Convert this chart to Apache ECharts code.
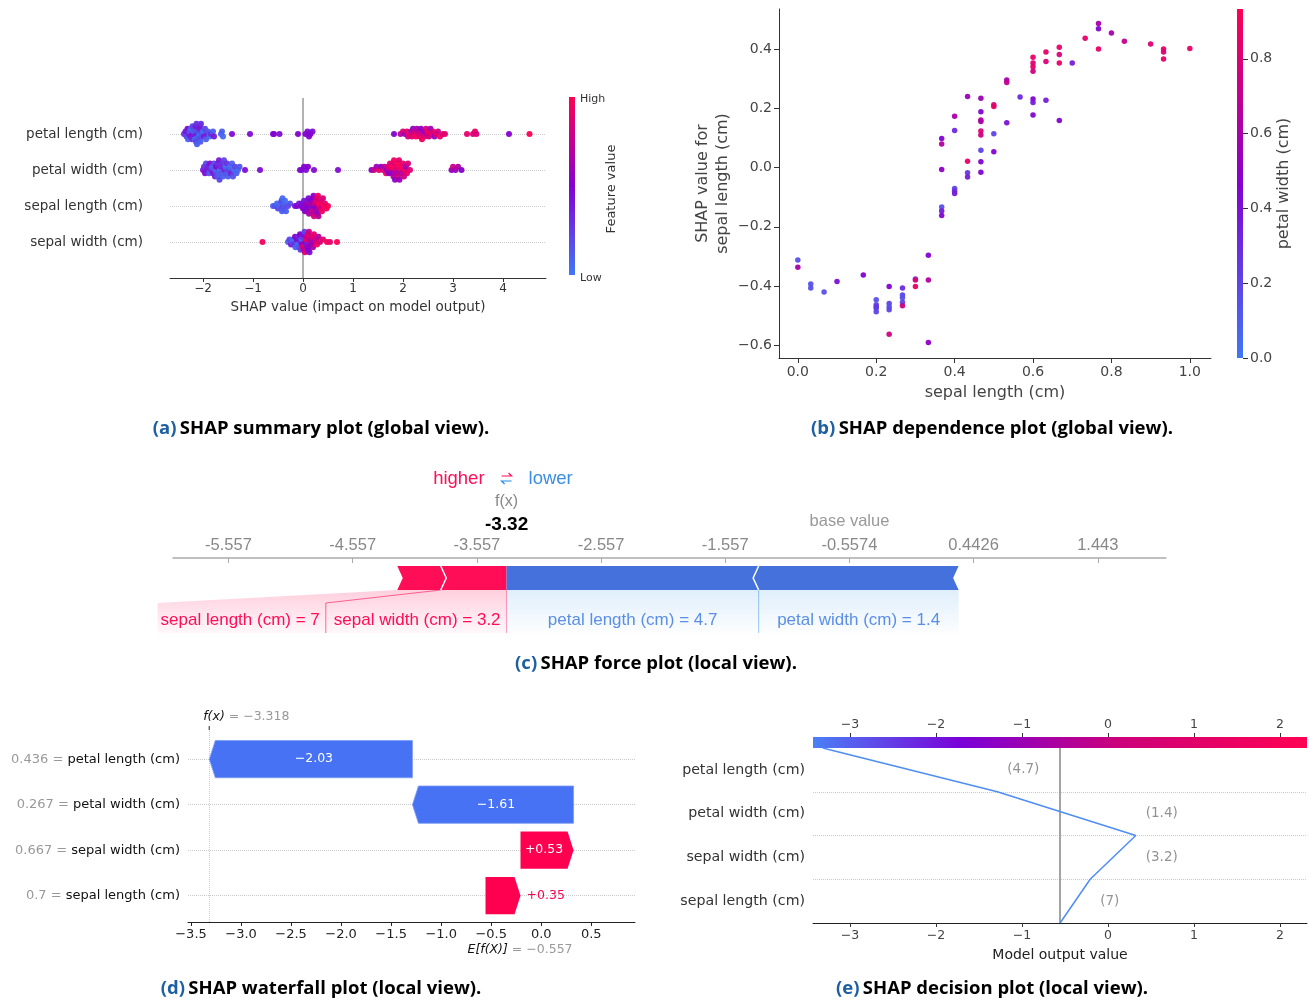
<!DOCTYPE html>
<html>
<head>
<meta charset="utf-8">
<script src="https://cdn.jsdelivr.net/npm/echarts@6/dist/echarts.min.js"></script>
</head>
<body style="margin:0; background:#fff;">
<div id="container" style="width:1309px; height:1003px;"></div>
<script type="text/javascript">
// ---------- (a) summary plot: [shap value, normalised feature value] ----------
var summaryFeatures = ['sepal width (cm)', 'sepal length (cm)', 'petal width (cm)', 'petal length (cm)']; // rows 1..4 from bottom
var summaryTicks = [-2, -1, 0, 1, 2, 3, 4];
var petalLengthShap = [
	[-2.38,0.3],[-2.35,0.4],[-2.33,0.2],[-2.31,0.45],[-2.3,0.1],[-2.28,0.35],[-2.27,0.15],[-2.25,0.4],[-2.24,0.05],[-2.22,0.3],
	[-2.21,0.2],[-2.2,0.45],[-2.19,0.1],[-2.18,0.35],[-2.17,0.15],[-2.16,0.05],[-2.15,0.4],[-2.14,0.2],[-2.13,0.3],[-2.12,0.1],
	[-2.11,0.45],[-2.1,0.15],[-2.09,0.05],[-2.08,0.35],[-2.07,0.2],[-2.06,0.4],[-2.05,0.1],[-2.04,0.3],[-2.02,0.15],[-2.0,0.05],
	[-1.98,0.4],[-1.96,0.2],[-1.94,0.1],[-1.92,0.35],[-1.9,0.15],[-1.87,0.05],[-1.84,0.3],[-1.8,0.1],[-1.78,0.4],
	[-1.64,0.08],[-1.62,0.1],[-1.6,0.05],[-1.42,0.45],[-1.06,0.45],[-0.6,0.45],[-0.58,0.5],[-0.47,0.45],[-0.1,0.5],
	[0.05,0.5],[0.09,0.45],[0.12,0.5],[0.15,0.5],[0.19,0.45],
	[1.82,0.5],[1.95,0.7],[2.0,0.85],[2.04,0.6],[2.08,0.9],[2.1,0.8],[2.13,0.95],[2.16,0.7],[2.18,0.85],[2.2,0.55],
	[2.22,0.9],[2.24,0.8],[2.26,1],[2.28,0.65],[2.3,0.9],[2.32,0.75],[2.34,0.85],[2.36,0.55],[2.38,0.95],[2.4,0.8],
	[2.42,0.6],[2.44,0.9],[2.46,0.85],[2.48,0.7],[2.5,0.95],[2.52,0.8],[2.55,0.6],[2.57,0.9],[2.6,0.85],[2.63,0.55],
	[2.66,0.9],[2.7,0.8],[2.74,0.95],[2.8,0.85],[2.84,0.9],
	[3.28,0.9],[3.4,0.85],[3.44,0.9],[3.47,0.85],[4.12,0.5],[4.53,1]
];
var petalWidthShap = [
	[-2.0,0.4],[-1.98,0.3],[-1.96,0.45],[-1.94,0.2],[-1.92,0.4],[-1.9,0.35],[-1.88,0.15],[-1.86,0.45],[-1.84,0.3],[-1.82,0.1],
	[-1.8,0.4],[-1.78,0.2],[-1.76,0.35],[-1.75,0.05],[-1.74,0.45],[-1.72,0.15],[-1.71,0.3],[-1.7,0.1],[-1.68,0.4],[-1.67,0.2],
	[-1.66,0.05],[-1.64,0.35],[-1.63,0.15],[-1.62,0.3],[-1.6,0.1],[-1.58,0.2],[-1.56,0.4],[-1.55,0.05],[-1.53,0.15],[-1.52,0.3],
	[-1.5,0.1],[-1.48,0.2],[-1.46,0.05],[-1.44,0.35],[-1.42,0.1],[-1.4,0.15],[-1.38,0.05],[-1.36,0.2],[-1.33,0.1],[-1.3,0.05],
	[-1.27,0.15],[-1.16,0.45],[-0.86,0.45],[-0.06,0.5],[-0.03,0.45],[0.02,0.5],[0.06,0.45],[0.1,0.5],[0.22,0.45],[0.7,0.45],
	[1.37,0.5],[1.42,0.8],[1.47,0.6],[1.52,0.9],[1.56,0.55],[1.6,0.85],[1.63,0.7],[1.66,0.95],[1.68,0.6],[1.7,0.85],
	[1.72,0.5],[1.74,0.9],[1.76,0.75],[1.77,1],[1.78,0.6],[1.8,0.85],[1.81,0.7],[1.82,0.95],[1.84,0.55],[1.85,0.85],
	[1.86,0.9],[1.88,0.65],[1.89,1],[1.9,0.8],[1.92,0.9],[1.93,0.6],[1.95,0.85],[1.96,0.95],[1.98,0.7],[2.0,0.9],
	[2.02,0.8],[2.04,0.95],[2.06,0.6],[2.08,0.9],[2.1,0.85],[2.14,0.9],
	[2.97,0.55],[3.0,0.8],[3.05,0.6],[3.1,0.7],[3.17,0.5]
];
var sepalLengthShap = [
	[-0.6,0.1],[-0.56,0.15],[-0.52,0.05],[-0.5,0.2],[-0.48,0.1],[-0.46,0.05],[-0.44,0.15],[-0.43,0.25],[-0.42,0.1],[-0.41,0.05],
	[-0.4,0.2],[-0.39,0.1],[-0.38,0.15],[-0.36,0.05],[-0.34,0.1],[-0.3,0.2],[-0.26,0.15],
	[-0.16,0.45],[-0.12,0.5],[-0.08,0.4],[-0.04,0.5],[-0.02,0.45],[0.0,0.55],[0.02,0.4],[0.04,0.5],[0.05,0.45],[0.06,0.6],
	[0.08,0.5],[0.09,0.4],[0.1,0.55],[0.11,0.45],[0.12,0.65],[0.14,0.5],[0.15,0.7],[0.16,0.45],[0.17,0.6],[0.18,0.8],
	[0.19,0.5],[0.2,0.7],[0.21,0.55],[0.22,0.85],[0.23,0.6],[0.24,0.75],[0.25,0.5],[0.26,0.9],[0.27,0.65],[0.28,0.8],
	[0.29,0.55],[0.3,0.95],[0.31,0.7],[0.32,0.85],[0.33,1],[0.35,0.8],[0.36,0.9],[0.38,0.95],[0.4,0.85],[0.42,1],
	[0.44,0.9],[0.47,0.95],[0.5,1]
];
var sepalWidthShap = [
	[-0.81,0.95],
	[-0.3,0.1],[-0.27,0.2],[-0.24,0.4],[-0.22,0.15],[-0.2,0.05],[-0.18,0.3],[-0.16,0.5],[-0.15,0.1],[-0.13,0.2],[-0.12,0.45],
	[-0.1,0.05],[-0.09,0.35],[-0.08,0.15],[-0.06,0.5],[-0.05,0.25],[-0.04,0.4],[-0.03,0.1],[-0.02,0.6],[-0.01,0.3],[0.0,0.9],
	[0.01,0.45],[0.02,0.7],[0.03,0.2],[0.04,0.85],[0.05,0.5],[0.06,0.95],[0.07,0.4],[0.08,0.75],[0.09,0.6],[0.1,0.9],
	[0.11,0.5],[0.12,0.8],[0.13,0.45],[0.14,0.95],[0.15,0.7],[0.16,0.55],[0.18,0.85],[0.2,0.65],[0.22,0.9],[0.24,0.6],
	[0.26,0.8],[0.28,0.95],[0.31,0.7],[0.34,0.85],[0.4,0.9],[0.48,0.95],[0.54,0.9],[0.68,1]
];

// ---------- (b) dependence plot: [sepal length, shap value, petal width] ----------
var depPoints = [
	[0,-0.312,0.15],[0,-0.337,0.6],[0.033,-0.393,0.15],[0.033,-0.407,0.15],[0.067,-0.42,0.15],[0.1,-0.385,0.4],[0.167,-0.363,0.45],
	[0.2,-0.446,0.15],[0.2,-0.463,0.2],[0.2,-0.475,0.15],[0.2,-0.487,0.2],[0.2,-0.47,0.25],
	[0.233,-0.402,0.45],[0.233,-0.459,0.2],[0.233,-0.47,0.15],[0.233,-0.48,0.2],[0.233,-0.563,0.75],
	[0.267,-0.407,0.3],[0.267,-0.43,0.2],[0.267,-0.44,0.15],[0.267,-0.455,0.2],[0.267,-0.467,0.75],
	[0.3,-0.376,0.2],[0.3,-0.38,0.8],[0.3,-0.402,0.85],
	[0.333,-0.296,0.45],[0.333,-0.38,0.65],[0.333,-0.591,0.5],
	[0.367,0.098,0.45],[0.367,0.079,0.65],[0.367,-0.007,0.5],[0.367,-0.133,0.15],[0.367,-0.147,0.35],[0.367,-0.162,0.45],
	[0.4,0.173,0.6],[0.4,0.125,0.3],[0.4,-0.071,0.2],[0.4,-0.08,0.3],[0.4,-0.088,0.35],
	[0.433,0.24,0.55],[0.433,0.021,0.85],[0.433,-0.018,0.25],[0.433,-0.032,0.35],
	[0.467,0.234,0.55],[0.467,0.188,0.45],[0.467,0.16,0.7],[0.467,0.155,0.6],[0.467,0.123,0.8],[0.467,0.11,0.75],
	[0.467,0.058,0.2],[0.467,0.019,0.45],[0.467,-0.016,0.45],
	[0.5,0.212,0.8],[0.5,0.206,0.85],[0.5,0.114,0.2],[0.5,0.053,0.45],
	[0.533,0.295,0.6],[0.533,0.287,0.7],[0.533,0.151,0.4],[0.567,0.238,0.3],
	[0.6,0.372,0.85],[0.6,0.353,0.8],[0.6,0.34,0.85],[0.6,0.325,0.75],[0.6,0.231,0.45],[0.6,0.219,0.35],[0.6,0.177,0.45],
	[0.633,0.39,0.85],[0.633,0.358,0.8],[0.633,0.227,0.35],
	[0.667,0.406,0.85],[0.667,0.381,0.8],[0.667,0.353,0.85],[0.667,0.159,0.45],
	[0.7,0.353,0.35],[0.733,0.436,0.85],[0.767,0.486,0.6],[0.767,0.468,0.45],[0.767,0.4,0.85],
	[0.8,0.454,0.6],[0.833,0.426,0.7],[0.9,0.417,0.8],[0.933,0.4,0.85],[0.933,0.39,0.8],[0.933,0.366,0.85],[1.0,0.402,0.85]
];
var depXTicks = [0, 0.2, 0.4, 0.6, 0.8, 1.0];
var depYTicks = [-0.6, -0.4, -0.2, 0, 0.2, 0.4];
var depCTicks = [0, 0.2, 0.4, 0.6, 0.8];

// ---------- (c)(d)(e) one local explanation ----------
var baseValue = -0.557;
var fx = -3.318;
var localFeatures = ['petal length (cm)', 'petal width (cm)', 'sepal width (cm)', 'sepal length (cm)']; // top to bottom
var localShap = [-2.03, -1.61, 0.53, 0.35];
var localRaw = ['4.7', '1.4', '3.2', '7'];
var localScaled = ['0.436', '0.267', '0.667', '0.7'];
var forceTicks = [-5.557, -4.557, -3.557, -2.557, -1.557, -0.5574, 0.4426, 1.443];
var forceTickLabels = ['-5.557', '-4.557', '-3.557', '-2.557', '-1.557', '-0.5574', '0.4426', '1.443'];
var waterTicks = [-3.5, -3.0, -2.5, -2.0, -1.5, -1.0, -0.5, 0.0, 0.5];
var decisionTicks = [-3, -2, -1, 0, 1, 2];

var captions = [
	['(a)', 'SHAP summary plot (global view).'],
	['(b)', 'SHAP dependence plot (global view).'],
	['(c)', 'SHAP force plot (local view).'],
	['(d)', 'SHAP waterfall plot (local view).'],
	['(e)', 'SHAP decision plot (local view).']
];

var RED = '#ff0051', BLUE = '#4672f3', FRED = '#ff0d57', FBLUE = '#4471dc';
var cmap = ['#3f77f6', '#8600d0', '#ff0052'];
var MPL = '"DejaVu Sans", sans-serif';
var ARIAL = '"Liberation Sans", Arial, sans-serif';

function minus(v, d) {
	return v.toFixed(d).replace('-', '\u2212');
}
var measureCtx = document.createElement('canvas').getContext('2d');
function textWidth(s, font) {
	measureCtx.font = font;
	return measureCtx.measureText(s).width;
}

// beeswarm offsets, same idea as shap: stack points that fall in the same bin
function swarm(points, row) {
	var bin = 0.09;
	var idx = points.map(function (p, i) { return i; });
	idx.sort(function (a, b) { return points[a][0] - points[b][0]; });
	var ys = [], layer = 0, last = null;
	idx.forEach(function (i) {
		var q = Math.round(points[i][0] / bin);
		if (q !== last) layer = 0;
		ys[i] = Math.ceil(layer / 2) * ((layer % 2) * 2 - 1);
		layer++;
		last = q;
	});
	var m = Math.max.apply(null, ys.map(Math.abs));
	var s = 0.9 * 0.4 / (m + 1);
	return points.map(function (p, i) { return [p[0], row + ys[i] * s, p[1]]; });
}
var summaryData = [sepalWidthShap, sepalLengthShap, petalWidthShap, petalLengthShap];

// force plot segments: [x0, x1, sign, order from f(x), feature index]
var posIdx = [], negIdx = [];
localShap.forEach(function (v, i) { (v > 0 ? posIdx : negIdx).push(i); });
posIdx.sort(function (a, b) { return localShap[b] - localShap[a]; });
negIdx.sort(function (a, b) { return localShap[a] - localShap[b]; });
var forceSegs = [];
var edge = fx;
posIdx.forEach(function (i, k) { forceSegs.push([edge - localShap[i], edge, 1, k, i]); edge -= localShap[i]; });
edge = fx;
negIdx.forEach(function (i, k) { forceSegs.push([edge, edge - localShap[i], -1, k, i]); edge -= localShap[i]; });
var forceFont = '17px ' + ARIAL;
function forceLabel(i) { return localFeatures[i] + ' = ' + localRaw[i]; }
var redWidths = posIdx.map(function (i) { return textWidth(forceLabel(i), forceFont); });

// waterfall items: [start, end, row, value], built from the bottom row upwards
var wfItems = [];
var acc = baseValue;
for (var k = localShap.length - 1; k >= 0; k--) {
	wfItems.push([acc, acc + localShap[k], localShap.length - 1 - k, localShap[k]]);
	acc += localShap[k];
}
// decision path and its labels
var decisionPath = [[baseValue, 0]];
var decisionLabels = [];
acc = baseValue;
for (var k2 = localShap.length - 1; k2 >= 0; k2--) {
	var r = localShap.length - 1 - k2;
	var nxt = acc + localShap[k2];
	decisionPath.push([nxt, r + 1]);
	decisionLabels.push([Math.max(acc, nxt), r + 0.5, k2]);
	acc = nxt;
}

var dom = document.getElementById('container');
var myChart = echarts.init(dom);

function vGrad(stops) {
	return new echarts.graphic.LinearGradient(0, 0, 0, 1, stops);
}
function hideAxis(idx) {
	return { gridIndex: idx, type: 'value', min: 0, max: 1, show: false };
}
function dotted(items) {
	return {
		silent: true, symbol: ['none', 'none'], animation: false, z: 1,
		label: { show: false },
		lineStyle: { type: 'dotted', color: '#cccccc', width: 1 },
		data: items
	};
}
var gridBase = { containLabel: false, outerBoundsMode: 'none' };
function grid(l, t, w, h) {
	return Object.assign({ left: l, top: t, width: w, height: h }, gridBase);
}
var noZero = { onZero: false };

var option = {
	animation: false,
	textStyle: { fontFamily: MPL },
	grid: [
		grid(170, 98, 376, 180),
		grid(779, 9, 432, 349),
		grid(1237, 9, 6, 349),
		grid(173, 470, 993, 88),
		grid(188, 730, 447, 192),
		grid(813, 748, 494, 175),
		grid(813, 737, 494, 11)
	],
	visualMap: [
		{ show: false, seriesIndex: [1, 2, 3, 4], dimension: 2, min: 0, max: 1, inRange: { color: cmap } },
		{ show: false, seriesIndex: 5, dimension: 2, min: 0, max: 0.933, inRange: { color: cmap } }
	],
	xAxis: [
		{
			gridIndex: 0, type: 'value', min: -2.66, max: 4.86,
			axisLine: { onZero: false, lineStyle: { color: '#333' } },
			axisTick: { customValues: summaryTicks, length: 4, lineStyle: { color: '#333' } },
			axisLabel: { customValues: summaryTicks, margin: 5, fontSize: 12, color: '#333', formatter: function (v) { return minus(v, 0); } },
			splitLine: { show: false },
			name: 'SHAP value (impact on model output)', nameLocation: 'middle', nameGap: 22, nameMoveOverlap: false,
			nameTextStyle: { fontSize: 13.5, color: '#333' }
		},
		{
			gridIndex: 1, type: 'value', min: -0.048, max: 1.054,
			axisLine: { onZero: false, lineStyle: { color: '#333' } },
			axisTick: { customValues: depXTicks, length: 5, lineStyle: { color: '#333' } },
			axisLabel: { customValues: depXTicks, margin: 7, fontSize: 14, color: '#444', formatter: function (v) { return minus(v, 1); } },
			splitLine: { show: false },
			name: 'sepal length (cm)', nameLocation: 'middle', nameGap: 27, nameMoveOverlap: false,
			nameTextStyle: { fontSize: 16, color: '#444' }
		},
		hideAxis(2),
		{
			gridIndex: 3, type: 'value', min: -6.004, max: 1.992,
			axisLine: { onZero: false, lineStyle: { color: '#aaa', width: 1.5 } },
			axisTick: { customValues: forceTicks, length: 5, inside: false, lineStyle: { color: '#aaa' } },
			axisLabel: {
				customValues: forceTicks, inside: true, margin: 4, fontSize: 16.5, color: '#888', fontFamily: ARIAL,
				formatter: function (v) {
					var i = forceTicks.indexOf(v);
					return i >= 0 ? forceTickLabels[i] : '';
				}
			},
			splitLine: { show: false }
		},
		{
			gridIndex: 4, type: 'value', min: -3.53, max: 0.937,
			axisLine: { onZero: false, lineStyle: { color: '#222' } },
			axisTick: { customValues: waterTicks, length: 4, lineStyle: { color: '#222' } },
			axisLabel: { customValues: waterTicks, margin: 6, fontSize: 13, color: '#222', formatter: function (v) { return minus(v, 1); } },
			splitLine: { show: false }
		},
		{
			gridIndex: 5, type: 'value', min: -3.43, max: 2.314,
			axisLine: { onZero: false, lineStyle: { color: '#222' } },
			axisTick: { customValues: decisionTicks, length: 4, lineStyle: { color: '#333' } },
			axisLabel: { customValues: decisionTicks, margin: 6, fontSize: 12.5, color: '#444', formatter: function (v) { return minus(v, 0); } },
			splitLine: { show: false },
			name: 'Model output value', nameLocation: 'middle', nameGap: 25, nameMoveOverlap: false,
			nameTextStyle: { fontSize: 14, color: '#222' }
		},
		{
			gridIndex: 6, type: 'value', position: 'top', min: -3.43, max: 2.314,
			axisLine: { show: false, onZero: false },
			axisTick: { customValues: decisionTicks, length: 4, lineStyle: { color: '#333' } },
			axisLabel: { customValues: decisionTicks, margin: 6, fontSize: 12.5, color: '#444', formatter: function (v) { return minus(v, 0); } },
			splitLine: { show: false }
		}
	],
	yAxis: [
		{
			gridIndex: 0, type: 'value', min: 0, max: 5,
			axisLine: { show: false, onZero: false }, axisTick: { show: false }, splitLine: { show: false },
			axisLabel: { customValues: [1, 2, 3, 4], margin: 27, fontSize: 13.5, color: '#333', formatter: function (v) { return summaryFeatures[v - 1]; } }
		},
		{
			gridIndex: 1, type: 'value', min: -0.643, max: 0.535,
			axisLine: { show: true, onZero: false, lineStyle: { color: '#333' } },
			axisTick: { show: true, customValues: depYTicks, length: 5, lineStyle: { color: '#333' } },
			axisLabel: { customValues: depYTicks, margin: 7, fontSize: 14, color: '#444', formatter: function (v) { return minus(v, 1); } },
			splitLine: { show: false },
			name: 'SHAP value for\nsepal length (cm)', nameLocation: 'middle', nameGap: 46, nameRotate: 90, nameMoveOverlap: false,
			nameTextStyle: { fontSize: 16, color: '#444', lineHeight: 20 }
		},
		{
			gridIndex: 2, type: 'value', position: 'right', min: 0, max: 0.933,
			axisLine: { show: false, onZero: false },
			axisTick: { show: true, customValues: depCTicks, length: 5, lineStyle: { color: '#333' } },
			axisLabel: { customValues: depCTicks, margin: 7, fontSize: 14, color: '#444', formatter: function (v) { return v.toFixed(1); } },
			splitLine: { show: false },
			name: 'petal width (cm)', nameLocation: 'middle', nameGap: 33, nameRotate: 90, nameMoveOverlap: false,
			nameTextStyle: { fontSize: 16, color: '#444' }
		},
		hideAxis(3),
		{
			gridIndex: 4, type: 'value', min: -0.578, max: 3.64,
			axisLine: { show: false, onZero: false }, axisTick: { show: false }, splitLine: { show: false },
			axisLabel: {
				customValues: [0, 1, 2, 3], margin: 8,
				formatter: function (v) {
					var i = localFeatures.length - 1 - v;
					return '{g|' + localScaled[i] + ' = }{b|' + localFeatures[i] + '}';
				},
				rich: {
					g: { fontSize: 13, color: '#999', fontFamily: MPL },
					b: { fontSize: 13, color: '#111', fontFamily: MPL }
				}
			}
		},
		{
			gridIndex: 5, type: 'value', min: 0, max: 4,
			axisLine: { show: false, onZero: false }, axisTick: { show: false }, splitLine: { show: false },
			axisLabel: {
				customValues: [0.5, 1.5, 2.5, 3.5], margin: 8, fontSize: 14.2, color: '#333',
				formatter: function (v) { return localFeatures[localFeatures.length - 1 - Math.floor(v)]; }
			}
		},
		hideAxis(6)
	],
	series: [
		// 0: summary guide lines
		{
			type: 'scatter', xAxisIndex: 0, yAxisIndex: 0, data: [], z: 1,
			markLine: dotted([
				{ yAxis: 1 }, { yAxis: 2 }, { yAxis: 3 }, { yAxis: 4 },
				{ xAxis: 0, lineStyle: { type: 'solid', color: '#999', width: 1.5 } }
			])
		}
	].concat(summaryData.map(function (pts, i) {
		return {
			type: 'scatter', xAxisIndex: 0, yAxisIndex: 0, z: 3,
			symbolSize: 6, data: swarm(pts, i + 1), itemStyle: { opacity: 0.95 }
		};
	})).concat([
		// 5: dependence points
		{ type: 'scatter', xAxisIndex: 1, yAxisIndex: 1, symbolSize: 5.5, data: depPoints, itemStyle: { opacity: 0.95 } },
		// 6: force plot bars, shading and labels
		{
			type: 'custom', xAxisIndex: 3, yAxisIndex: 3, clip: false, data: forceSegs,
			renderItem: function (params, api) {
				var x0 = api.value(0), x1 = api.value(1), sign = api.value(2), ord = api.value(3), fi = api.value(4);
				var p0 = api.coord([x0, 0]), p1 = api.coord([x1, 0]);
				var fxPx = api.coord([fx, 0])[0];
				var axisY = p0[1], top = axisY + 8, bot = axisY + 32, mid = (top + bot) / 2, tip = 5.5;
				var L = p0[0], R = p1[0];
				var ch = [];
				var text = forceLabel(fi);
				if (sign > 0) {
					// labels go right to left starting at f(x)
					var right = fxPx - 6, div = fxPx, prevDiv = fxPx;
					for (var j = 0; j <= ord; j++) {
						prevDiv = div;
						if (j > 0) right = div - 6;
						var left = right - redWidths[j];
						div = left - (j < posIdx.length - 1 ? 8 : 3);
					}
					var lblRight = (ord === 0) ? fxPx - 6 : prevDiv - 6;
					var rb = prevDiv, lb = div;
					ch.push({
						type: 'polygon',
						shape: { points: [[L, bot], [R, bot], [rb, bot + 13], [rb, bot + 43], [lb, bot + 43], [lb, bot + 13]] },
						style: { fill: vGrad([{ offset: 0, color: 'rgba(255,13,87,0.2)' }, { offset: 1, color: 'rgba(255,13,87,0.03)' }]) }
					});
					if (ord < posIdx.length - 1) {
						ch.push({ type: 'polyline', shape: { points: [[L, bot], [lb, bot + 13], [lb, bot + 43]] }, style: { stroke: 'rgba(255,13,87,0.6)', lineWidth: 1, fill: null } });
					}
					if (ord === 0) {
						ch.push({ type: 'polyline', shape: { points: [[fxPx, bot], [fxPx, bot + 43]] }, style: { stroke: 'rgba(255,13,87,0.4)', lineWidth: 1, fill: null } });
					}
					var rt = ord === 0 ? 0 : tip;
					ch.push({ type: 'polygon', shape: { points: [[L, top], [R, top], [R + rt, mid], [R, bot], [L, bot], [L + tip, mid]] }, style: { fill: FRED } });
					if (ord > 0) {
						ch.push({ type: 'polyline', shape: { points: [[R, top], [R + tip, mid], [R, bot]] }, style: { stroke: '#fff', lineWidth: 1.5, fill: null } });
					}
					ch.push({ type: 'text', style: { text: text, x: lblRight, y: bot + 30, align: 'right', verticalAlign: 'middle', fill: FRED, font: forceFont } });
				} else {
					ch.push({
						type: 'rect', shape: { x: L, y: bot, width: R - L, height: 43 },
						style: { fill: vGrad([{ offset: 0, color: 'rgba(30,136,229,0.14)' }, { offset: 1, color: 'rgba(30,136,229,0.01)' }]) }
					});
					if (ord > 0) {
						ch.push({ type: 'polyline', shape: { points: [[L, bot], [L, bot + 43]] }, style: { stroke: 'rgba(30,136,229,0.45)', lineWidth: 1, fill: null } });
					}
					var lt = ord === 0 ? 0 : tip;
					ch.push({ type: 'polygon', shape: { points: [[L, top], [R, top], [R - tip, mid], [R, bot], [L, bot], [L - lt, mid]] }, style: { fill: FBLUE } });
					if (ord > 0) {
						ch.push({ type: 'polyline', shape: { points: [[L, top], [L - tip, mid], [L, bot]] }, style: { stroke: '#fff', lineWidth: 1.5, fill: null } });
					}
					ch.push({ type: 'text', style: { text: text, x: (L + R) / 2, y: bot + 30, align: 'center', verticalAlign: 'middle', fill: '#5b8fe6', font: forceFont } });
				}
				return { type: 'group', children: ch };
			}
		},
		// 7: force plot headline texts
		{
			type: 'custom', xAxisIndex: 3, yAxisIndex: 3, clip: false, data: [[fx, baseValue]],
			renderItem: function (params, api) {
				var pf = api.coord([api.value(0), 0]);
				var pb = api.coord([api.value(1), 0]);
				var y0 = pf[1], x = pf[0];
				return {
					type: 'group', children: [
						{ type: 'text', style: { text: 'higher', x: x - 22, y: y0 - 79, align: 'right', verticalAlign: 'middle', fill: FRED, font: '18.5px ' + ARIAL } },
						{ type: 'text', style: { text: 'lower', x: x + 22, y: y0 - 79, align: 'left', verticalAlign: 'middle', fill: '#3b8de6', font: '18.5px ' + ARIAL } },
						{ type: 'polyline', shape: { points: [[x - 5, y0 - 82], [x + 5, y0 - 82], [x + 2, y0 - 85]] }, style: { stroke: FRED, lineWidth: 1.2, fill: null } },
						{ type: 'polyline', shape: { points: [[x + 5, y0 - 77], [x - 5, y0 - 77], [x - 2, y0 - 74]] }, style: { stroke: '#1e88e5', lineWidth: 1.2, fill: null } },
						{ type: 'text', style: { text: 'f(x)', x: x, y: y0 - 56, align: 'center', verticalAlign: 'middle', fill: '#888', font: '16px ' + ARIAL } },
						{ type: 'text', style: { text: fx.toFixed(2), x: x, y: y0 - 33, align: 'center', verticalAlign: 'middle', fill: '#000', font: 'bold 19px ' + ARIAL } },
						{ type: 'text', style: { text: 'base value', x: pb[0], y: y0 - 37, align: 'center', verticalAlign: 'middle', fill: '#999', font: '16.5px ' + ARIAL } }
					]
				};
			}
		},
		// 8: waterfall arrows
		{
			type: 'custom', xAxisIndex: 4, yAxisIndex: 4, clip: false, data: wfItems, z: 3,
			markLine: dotted([{ yAxis: 0 }, { yAxis: 1 }, { yAxis: 2 }, { yAxis: 3 }, { xAxis: fx }]),
			renderItem: function (params, api) {
				var s = api.value(0), e = api.value(1), row = api.value(2), v = api.value(3);
				var pS = api.coord([s, row]), pE = api.coord([e, row]);
				var h = api.size([0, 0.82])[1];
				var top = pS[1] - h / 2, bot = pS[1] + h / 2, mid = pS[1], head = 6;
				var ch = [];
				var lbl = (v > 0 ? '+' : '\u2212') + Math.abs(v).toFixed(2);
				var font = '12.5px ' + MPL;
				var w = Math.abs(pE[0] - pS[0]);
				var inside = w >= textWidth(lbl, font) + 14;
				if (v > 0) {
					var xL = pS[0], xR = pE[0];
					ch.push({ type: 'polygon', shape: { points: [[xL, top], [xR - head, top], [xR, mid], [xR - head, bot], [xL, bot]] }, style: { fill: RED } });
					ch.push(inside
						? { type: 'text', style: { text: lbl, x: (xL + xR - head) / 2, y: mid, align: 'center', verticalAlign: 'middle', fill: '#fff', font: font } }
						: { type: 'text', style: { text: lbl, x: xR + 6, y: mid, align: 'left', verticalAlign: 'middle', fill: RED, font: font } });
				} else {
					var xR2 = pS[0], xL2 = pE[0];
					ch.push({ type: 'polygon', shape: { points: [[xR2, top], [xL2 + head, top], [xL2, mid], [xL2 + head, bot], [xR2, bot]] }, style: { fill: BLUE, stroke: '#7d9cf7', lineWidth: 0.8 } });
					ch.push(inside
						? { type: 'text', style: { text: lbl, x: (xL2 + head + xR2) / 2, y: mid, align: 'center', verticalAlign: 'middle', fill: '#fff', font: font } }
						: { type: 'text', style: { text: lbl, x: xL2 - 6, y: mid, align: 'right', verticalAlign: 'middle', fill: BLUE, font: font } });
				}
				return { type: 'group', children: ch };
			}
		},
		// 9: waterfall f(x) / E[f(X)] annotations
		{
			type: 'custom', xAxisIndex: 4, yAxisIndex: 4, clip: false, data: [[fx, baseValue]],
			renderItem: function (params, api) {
				var pf = api.coord([api.value(0), 3.64]);
				var pb = api.coord([api.value(1), -0.578]);
				var rich = {
					i: { fontStyle: 'italic', fill: '#111', fontSize: 12.5, fontFamily: MPL },
					g: { fill: '#999', fontSize: 12.5, fontFamily: MPL }
				};
				return {
					type: 'group', children: [
						{ type: 'polyline', shape: { points: [[pf[0], pf[1]], [pf[0], pf[1] - 4]] }, style: { stroke: '#222', lineWidth: 1, fill: null } },
						{ type: 'text', style: { text: '{i|f(x)}{g| = ' + minus(api.value(0), 3) + '}', rich: rich, x: pf[0] - 6, y: pf[1] - 13, align: 'left', verticalAlign: 'middle' } },
						{ type: 'text', style: { text: '{i|E[f(X)]}{g| = ' + minus(api.value(1), 3) + '}', rich: rich, x: pb[0] - 18, y: pb[1] + 28, align: 'left', verticalAlign: 'middle' } }
					]
				};
			}
		},
		// 10: decision path
		{
			type: 'line', xAxisIndex: 5, yAxisIndex: 5, data: decisionPath, showSymbol: false, symbol: 'none',
			lineStyle: { color: '#4f8df5', width: 1.5 }, z: 4,
			markLine: dotted([
				{ yAxis: 1 }, { yAxis: 2 }, { yAxis: 3 },
				{ xAxis: baseValue, lineStyle: { type: 'solid', color: '#999', width: 1.8 } }
			])
		},
		// 11: decision feature values
		{
			type: 'scatter', xAxisIndex: 5, yAxisIndex: 5, symbolSize: 0, data: decisionLabels,
			label: {
				show: true, position: 'right', distance: 10, fontSize: 13.5, color: '#777',
				formatter: function (p) { return '(' + localRaw[p.data[2]] + ')'; }
			}
		}
	]),
	graphic: [
		// summary colour bar
		{ type: 'rect', shape: { x: 569, y: 97, width: 6, height: 178 }, style: { fill: vGrad([{ offset: 0, color: cmap[2] }, { offset: 0.5, color: cmap[1] }, { offset: 1, color: cmap[0] }]) } },
		{ type: 'text', style: { text: 'High', x: 580, y: 99, fill: '#333', font: '11px ' + MPL, verticalAlign: 'middle' } },
		{ type: 'text', style: { text: 'Low', x: 580, y: 278, fill: '#333', font: '11px ' + MPL, verticalAlign: 'middle' } },
		{ type: 'text', x: 612, y: 189, rotation: Math.PI / 2, style: { text: 'Feature value', fill: '#333', font: '13px ' + MPL, align: 'center', verticalAlign: 'middle' } },
		// dependence colour bar
		{ type: 'rect', shape: { x: 1237, y: 9, width: 6, height: 349 }, style: { fill: vGrad([{ offset: 0, color: cmap[2] }, { offset: 0.5, color: cmap[1] }, { offset: 1, color: cmap[0] }]) } },
		// decision colour bar
		{
			type: 'rect', shape: { x: 813, y: 737, width: 494, height: 11 },
			style: {
				fill: new echarts.graphic.LinearGradient(0, 0, 1, 0, [
					{ offset: 0, color: '#4a80f5' }, { offset: 0.3, color: '#7a00d8' },
					{ offset: 0.62, color: '#cc007a' }, { offset: 1, color: '#ff0052' }
				])
			}
		}
	].concat(captions.map(function (c, i) {
		var pos = [[321, 429], [992, 429], [656, 664], [321, 989], [992, 989]][i];
		return {
			type: 'text', x: pos[0], y: pos[1],
			style: {
				text: '{a|' + c[0] + '} {b|' + c[1] + '}', align: 'center', verticalAlign: 'middle',
				rich: {
					a: { fill: '#1d5fa0', fontSize: 18.5, fontWeight: 'bold', fontFamily: '"Open Sans"' },
					b: { fill: '#000', fontSize: 18.5, fontWeight: 'bold', fontFamily: '"Open Sans"' }
				}
			}
		};
	}))
};

myChart.setOption(option);
</script>
</body>
</html>
